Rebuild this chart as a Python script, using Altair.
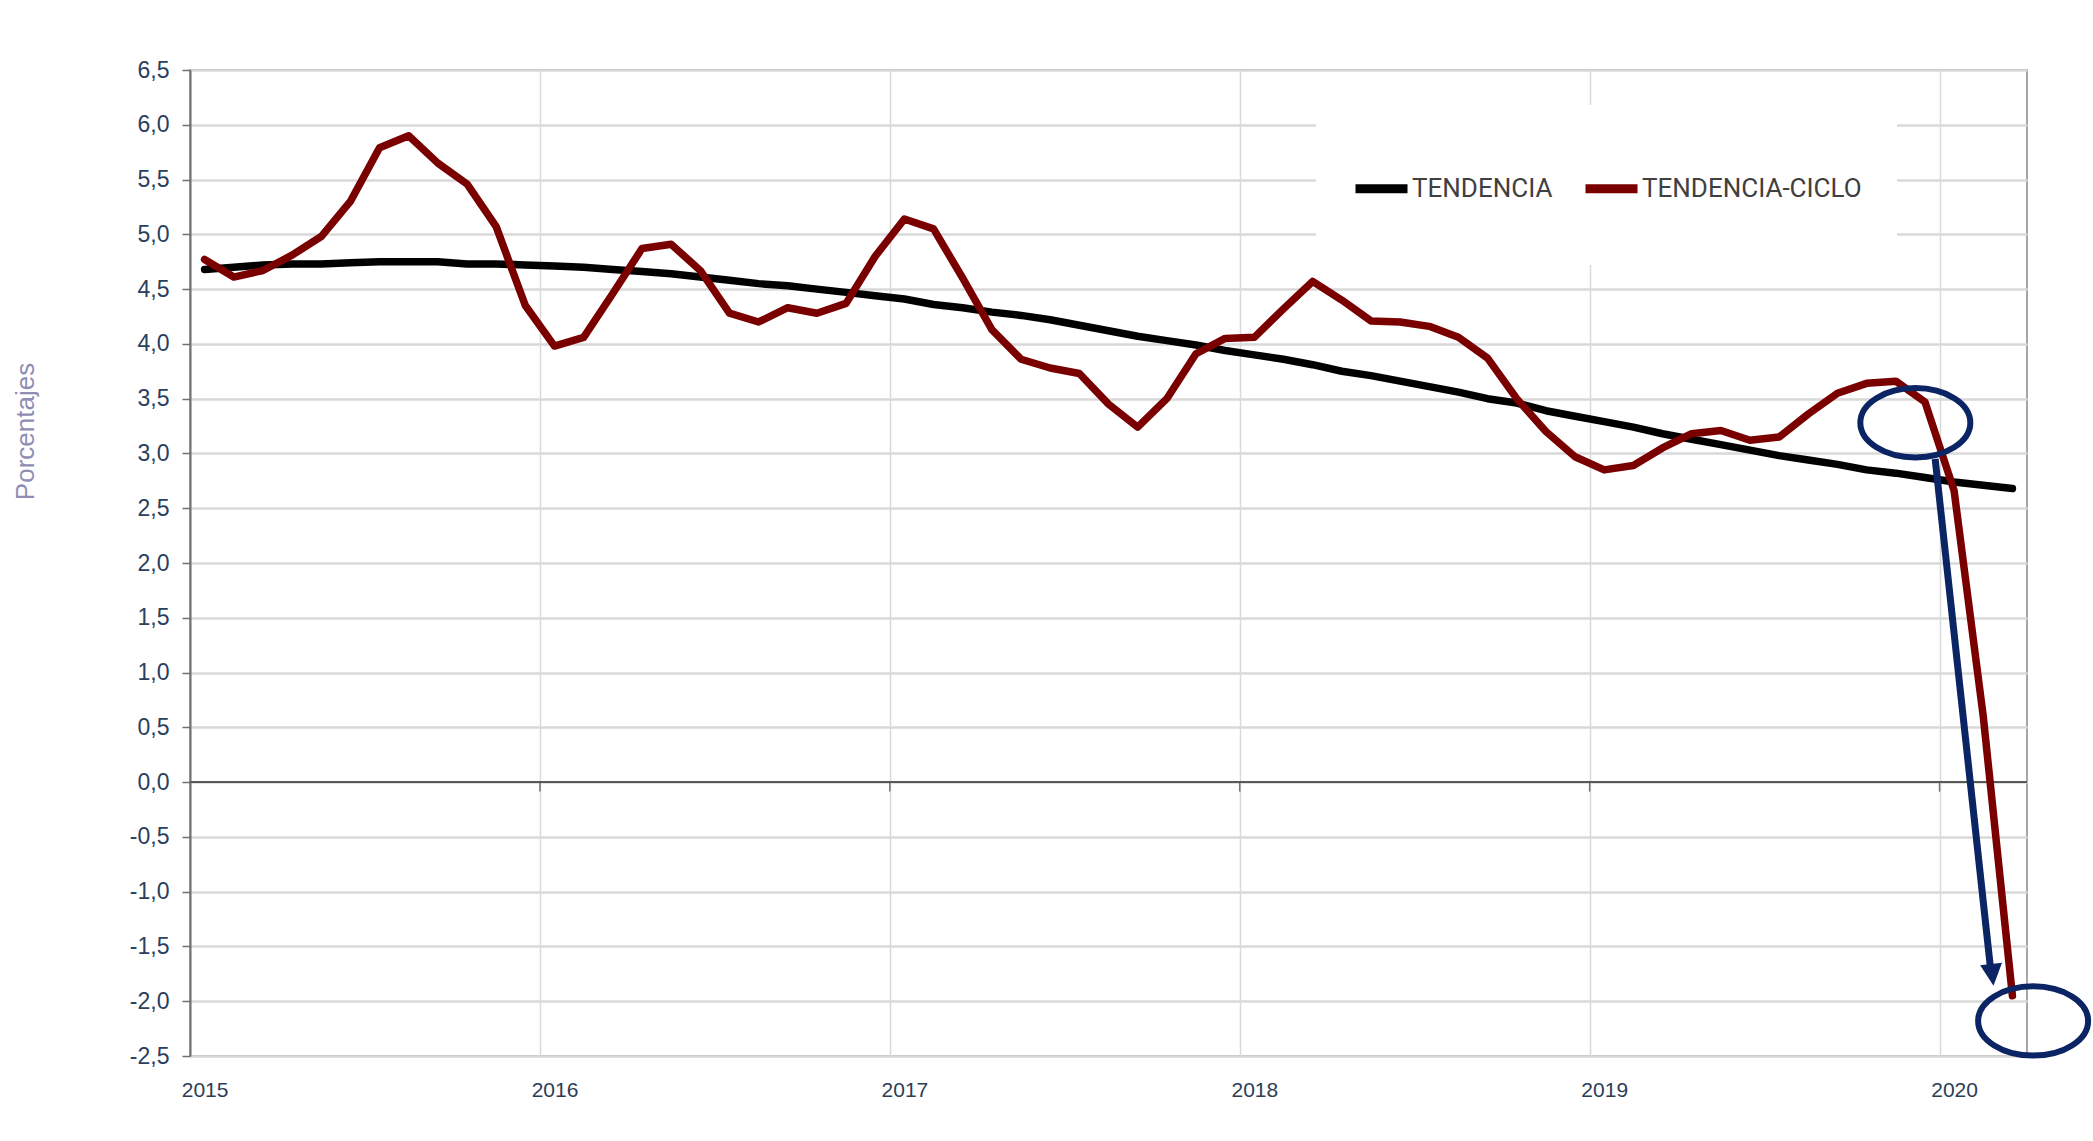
import altair as alt
import pandas as pd

# ---------------- data (monthly, Jan 2015 .. Mar 2020) ----------------
month_index = list(range(63))
tendencia = [4.68, 4.70, 4.72, 4.73, 4.73, 4.74, 4.75, 4.75, 4.75, 4.73, 4.73, 4.72,
             4.71, 4.70, 4.68, 4.66, 4.64, 4.61, 4.58, 4.55, 4.53, 4.50, 4.47, 4.44,
             4.41, 4.36, 4.33, 4.29, 4.26, 4.22, 4.17, 4.12, 4.07, 4.03, 3.99, 3.94,
             3.90, 3.86, 3.81, 3.75, 3.71, 3.66, 3.61, 3.56, 3.50, 3.46, 3.39, 3.34,
             3.29, 3.24, 3.18, 3.13, 3.08, 3.03, 2.98, 2.94, 2.90, 2.85, 2.82, 2.78,
             2.74, 2.71, 2.68]
tendencia_ciclo = [4.77, 4.61, 4.67, 4.81, 4.98, 5.30, 5.79, 5.90, 5.65, 5.46, 5.07, 4.35,
                   3.98, 4.06, 4.46, 4.87, 4.91, 4.67, 4.28, 4.20, 4.33, 4.28, 4.37, 4.80,
                   5.14, 5.05, 4.60, 4.13, 3.86, 3.78, 3.73, 3.45, 3.24, 3.50, 3.91, 4.05,
                   4.06, 4.32, 4.57, 4.40, 4.21, 4.20, 4.16, 4.06, 3.87, 3.50, 3.20, 2.97,
                   2.85, 2.89, 3.05, 3.18, 3.21, 3.12, 3.15, 3.36, 3.55, 3.64, 3.66, 3.47,
                   2.66, 0.60, -1.95]
series_names = ["TENDENCIA", "TENDENCIA-CICLO"]
series_colors = ["#000000", "#7a0000"]

year_starts = [0, 12, 24, 36, 48, 60]          # month index of each January
year_labels = ["2015", "2016", "2017", "2018", "2019", "2020"]
y_ticks = [-2.5, -2.0, -1.5, -1.0, -0.5, 0.0, 0.5, 1.0, 1.5, 2.0, 2.5,
           3.0, 3.5, 4.0, 4.5, 5.0, 5.5, 6.0, 6.5]

# annotation (ellipses + arrow) in data units
ellipse_x = [59.17, 63.21]
ellipse_y = [3.28, -2.18]
arrow_start = (59.85, 2.95)
arrow_end = (61.74, -1.68)
arrow_head = (61.81, -1.76)

# ---------------- tables ----------------
rows = []
for name, vals in zip(series_names, [tendencia, tendencia_ciclo]):
    for i, v in zip(month_index, vals):
        rows.append({"x": i + 0.5, "y": v, "serie": name})
df = pd.DataFrame(rows)

zero_df = pd.DataFrame({"y": [0.0]})
tick_df = pd.DataFrame({"x": year_starts[1:], "y": [0.0] * 5})
ell_df = pd.DataFrame({"x": ellipse_x, "y": ellipse_y})
shaft_df = pd.DataFrame({"x": [arrow_start[0]], "y": [arrow_start[1]],
                         "x2": [arrow_end[0]], "y2": [arrow_end[1]]})
head_df = pd.DataFrame({"x": [arrow_head[0]], "y": [arrow_head[1]]})

label_map = "{" + ",".join(f"'{s}':'{l}'" for s, l in zip(year_starts, year_labels)) + "}"

x_scale = alt.Scale(domain=[0, 63], nice=False, zero=False)
y_scale = alt.Scale(domain=[-2.5, 6.5], nice=False, zero=False)

x_axis = alt.Axis(
    values=year_starts, labelExpr=f"{label_map}[datum.value]",
    grid=True, gridColor="#d9d9d9", gridWidth=1.5,
    domain=False, ticks=False, labelOffset=14.6, labelPadding=23,
    labelFlush=False, labelOverlap=False,
    labelFont="Liberation Sans", labelFontSize=21, labelColor="#2c3e55", title=None)

y_axis = alt.Axis(
    values=y_ticks,
    labelExpr="(datum.value < 0 ? '-' : '') + replace(format(abs(datum.value), '.1f'), '.', ',')",
    grid=True, gridColor="#d9d9d9", gridWidth=2.5,
    domain=True, domainColor="#707070", domainWidth=2,
    ticks=True, tickSize=8, tickColor="#707070", tickWidth=1.5,
    labelPadding=13, labelFont="Liberation Sans", labelFontSize=23,
    labelColor="#2a405c", labelFlush=False, labelOverlap=False,
    title="Porcentajes", titleFont="Liberation Sans", titleFontSize=26,
    titleFontWeight="normal", titleColor="#8e8eb5", titleAngle=270,
    titleX=-165, titleY=361, titleAlign="center", titleBaseline="middle")

X = alt.X("x:Q", scale=x_scale, axis=x_axis)
Y = alt.Y("y:Q", scale=y_scale, axis=y_axis)

zero_rule = alt.Chart(zero_df).mark_rule(color="#595959", strokeWidth=2).encode(y=Y)

zero_ticks = alt.Chart(tick_df).mark_tick(
    orient="vertical", size=9, thickness=1.5, color="#404040", yOffset=5
).encode(x=X, y=Y)

lines = alt.Chart(df).mark_line(strokeWidth=7.5, strokeJoin="round", strokeCap="round").encode(
    x=X, y=Y,
    color=alt.Color("serie:N",
                    scale=alt.Scale(domain=series_names, range=series_colors),
                    legend=alt.Legend(
                        title=" ", titleFontSize=10, titlePadding=8,
                        orient="none", legendX=1126, legendY=35,
                        direction="horizontal", symbolType="stroke",
                        symbolSize=2704, symbolStrokeWidth=9,
                        labelFont="Roboto", labelFontSize=26, labelColor="#404040",
                        labelLimit=600, labelOffset=0, columnPadding=14, padding=35,
                        fillColor="white",
                        labelExpr="[datum.label, '']")),
)

ellipse_shape = "M -1 0 A 1 0.63 0 1 1 1 0 A 1 0.63 0 1 1 -1 0 Z"
ellipses = alt.Chart(ell_df).mark_point(
    shape=ellipse_shape, size=12100, filled=False, stroke="#0b2463",
    strokeWidth=6, opacity=1
).encode(x=X, y=Y)

shaft = alt.Chart(shaft_df).mark_rule(color="#0b2463", strokeWidth=7).encode(
    x=X, y=Y, x2="x2:Q", y2="y2:Q")

head = alt.Chart(head_df).mark_point(
    shape="M -1 -1 L 1 -1 L 0 1 Z", size=484, filled=True, color="#0b2463",
    opacity=1, angle=353.7
).encode(x=X, y=Y)

chart = alt.layer(zero_rule, zero_ticks, lines, ellipses, shaft, head).properties(
    width=1837, height=986,
    padding={"left": 190, "top": 70, "right": 66, "bottom": 85},
    autosize=alt.AutoSizeParams(type="none"),
    background="white",
).configure_view(stroke="#a6a6a6", strokeWidth=2)

chart.save("out.html", embed_options={"renderer": "svg", "actions": False})
